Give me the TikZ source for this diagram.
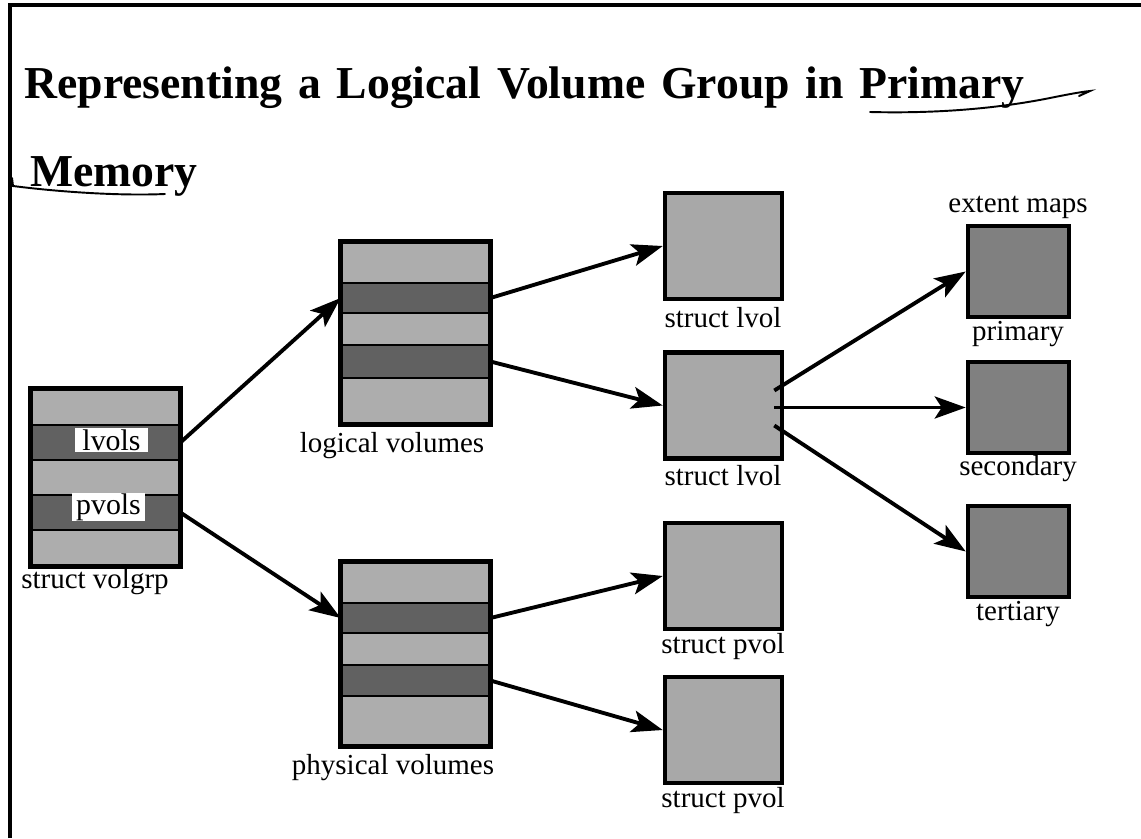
\documentclass[tikz,border=0pt]{standalone}
\usepackage{fontspec}
\setmainfont{Liberation Serif}
\usetikzlibrary{arrows.meta}
\definecolor{lightfill}{gray}{0.68}
\definecolor{darkfill}{gray}{0.38}
\definecolor{structfill}{gray}{0.66}
\definecolor{mapfill}{gray}{0.5}
\begin{document}
\begin{tikzpicture}[x=0.02cm, y=-0.02cm,
    band/.style={draw, line width=1.6pt, minimum width=2.94cm, inner sep=0pt},
    lightband/.style={band, fill=lightfill},
    darkband/.style={band, fill=darkfill},
    frame/.style={line width=2.6pt},
    tag/.style={fill=white, inner sep=0pt, minimum width=1.46cm, minimum height=0.48cm, font=\fontsize{17}{19}\selectfont},
    structbox/.style={draw, line width=2.6pt, fill=structfill, minimum width=2.34cm, minimum height=2.12cm, inner sep=0pt},
    mapbox/.style={draw, line width=2.6pt, fill=mapfill, minimum width=2.02cm, minimum height=1.82cm, inner sep=0pt},
    caption/.style={font=\fontsize{16.5}{18}\selectfont, inner sep=0pt},
    heading/.style={anchor=base west, inner sep=0pt, font=\fontsize{26}{30}\bfseries},
    link/.style={line width=2.2pt, -{Stealth[length=0.62cm, width=0.44cm, inset=0.14cm]}},
    pen/.style={line width=1.1pt, line cap=round}]
  \useasboundingbox (0,0) rectangle (1141,838);

  % page border (top and left only)
  \draw[line width=2pt] (10,838) -- (10,5) -- (1141,5);

  % title
  \node[heading] (title1) at (24,98)
    {\spaceskip=9pt\relax Representing a Logical Volume Group in Primary};
  \node[heading] (title2) at (30,186) {Memory};
  % hand drawn underlines
  \draw[pen] (870,112) .. controls (950,114) and (1010,106) .. (1050,98)
    .. controls (1065,95) and (1080,92) .. (1090,91) -- (1079,96);
  \draw[pen] (12,178) -- (13,186) .. controls (60,192) and (120,196) .. (165,194);

  % struct volgrp
  \node[lightband, minimum height=0.7cm] (vg1) at (105.5,407.5) {};
  \node[darkband,  minimum height=0.7cm] (vg2) at (105.5,442.5) {};
  \node[lightband, minimum height=0.7cm] (vg3) at (105.5,477.5) {};
  \node[darkband,  minimum height=0.7cm] (vg4) at (105.5,512.5) {};
  \node[lightband, minimum height=0.7cm] (vg5) at (105.5,547.5) {};
  \draw[frame] (vg1.north west) rectangle (vg5.south east);
  \node[tag] (lvols) at (111.5,440) {lvols};
  \node[tag] (pvols) at (108.5,507) {pvols};
  \node[caption] (vgname) at (95,582) {struct volgrp};

  % logical volumes
  \node[lightband, minimum height=0.8cm]  (lv1) at (415.5,263) {};
  \node[darkband,  minimum height=0.6cm]  (lv2) at (415.5,298) {};
  \node[lightband, minimum height=0.64cm] (lv3) at (415.5,329) {};
  \node[darkband,  minimum height=0.66cm] (lv4) at (415.5,361.5) {};
  \node[lightband, minimum height=0.9cm]  (lv5) at (415.5,400.5) {};
  \draw[frame] (lv1.north west) rectangle (lv5.south east);
  \node[caption] (lvname) at (392,446) {logical volumes};

  % physical volumes
  \node[lightband, minimum height=0.8cm]  (pv1) at (415.5,583) {};
  \node[darkband,  minimum height=0.6cm]  (pv2) at (415.5,618) {};
  \node[lightband, minimum height=0.64cm] (pv3) at (415.5,649) {};
  \node[darkband,  minimum height=0.62cm] (pv4) at (415.5,680.5) {};
  \node[lightband, minimum height=0.98cm] (pv5) at (415.5,720.5) {};
  \draw[frame] (pv1.north west) rectangle (pv5.south east);
  \node[caption] (pvname) at (393,768) {physical volumes};

  % struct lvol / struct pvol
  \node[structbox] (lvolA) at (723.5,246) {};
  \node[caption] at (723,318) {struct lvol};
  \node[structbox] (lvolB) at (723.5,405.5) {};
  \node[caption] at (723,476) {struct lvol};
  \node[structbox] (pvolA) at (723.5,576) {};
  \node[caption] at (723,647) {struct pvol};
  \node[structbox] (pvolB) at (723.5,730) {};
  \node[caption] at (723,801) {struct pvol};

  % extent maps
  \node[caption] (maps) at (1018,207) {extent maps};
  \node[mapbox] (prim) at (1018.5,271.5) {};
  \node[caption] at (1018,334) {primary};
  \node[mapbox] (sec) at (1018.5,407.5) {};
  \node[caption] at (1018,469) {secondary};
  \node[mapbox] (tert) at (1018.5,551.5) {};
  \node[caption] at (1018,614) {tertiary};

  % pointers
  \draw[link] (vg2.east) -- (lv2.west);
  \draw[link] (vg4.east) -- (pv2.west);
  \draw[link] (lv2.east) -- (lvolA.west);
  \draw[link] (lv4.east) -- (lvolB.west);
  \draw[link] (pv2.east) -- (pvolA.west);
  \draw[link] (pv4.east) -- (pvolB.west);
  \draw[link] ([shift={(-10,-15)}]lvolB.east) -- (prim.west);
  \draw[link] ([shift={(-10,2)}]lvolB.east) -- (sec.west);
  \draw[link] ([shift={(-10,20)}]lvolB.east) -- (tert.west);
\end{tikzpicture}
\end{document}
